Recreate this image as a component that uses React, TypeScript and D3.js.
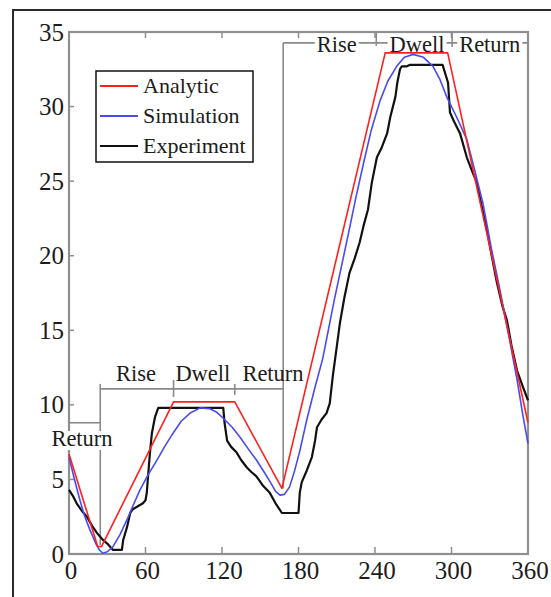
import React from 'react';
import * as d3 from 'd3';

// ---- data (angle in degrees, value) ----
const analyticPts: [number, number][] = [
  [0, 6.7], [22.5, 0.5], [25.5, 0.5], [82, 10.2], [130, 10.2], [167, 4.4],
  [248, 33.6], [297, 33.6], [360, 8.8],
];

const simulationPts: [number, number][] = [
  [0, 6.5], [4, 5.1], [8.6, 3.6], [12, 2.6], [16.5, 1.6], [21, 0.7], [24, 0.25],
  [26.5, 0.05], [30, 0.15], [34.5, 0.5], [40, 1.3], [45.5, 2.3], [50, 3.2],
  [55.7, 4.3], [62, 5.3], [69, 6.3], [75, 7.2], [81.6, 8.1], [88, 8.9],
  [95, 9.45], [103, 9.8], [110, 9.75], [116, 9.5], [121, 9.1], [128, 8.5],
  [134, 7.85], [141, 7.0], [147, 6.3], [153, 5.5], [158, 4.8], [162, 4.2],
  [165.5, 3.95], [169, 4.0], [173, 4.5], [177, 5.6], [181, 6.9], [186.5, 9.0],
  [193, 11.2], [199, 13.1], [208, 17.0], [218.7, 21.3], [225, 23.9], [231, 26.2],
  [237, 28.4], [244, 30.4], [250, 31.7], [257, 32.7], [263, 33.3], [270, 33.5],
  [278, 33.3], [285.5, 32.7], [291, 31.8], [296.5, 30.6], [304, 29.3],
  [312, 27.8], [318, 25.8], [324.7, 23.5], [331, 20.6], [338, 17.7],
  [345, 14.6], [351.4, 11.7], [356, 9.3], [360, 7.4],
];

const experimentPts: [number, number][] = [
  [0, 4.3], [3, 3.9], [6, 3.4], [10, 2.9], [14, 2.5], [18, 1.9], [22, 1.4],
  [26, 1.0], [30, 0.7], [34.5, 0.27], [41.5, 0.27], [42.5, 0.94], [45.5, 1.8],
  [48, 2.75], [50, 3.0], [53, 3.15], [58, 3.4], [60, 3.6], [61, 4.1], [62, 5.2],
  [63.5, 6.8], [65, 8.1], [67.5, 9.2], [70, 9.8], [121, 9.8], [122, 8.8],
  [124, 7.6], [127, 7.2], [131.5, 6.8], [135, 6.3], [139.5, 5.8], [143, 5.5],
  [147, 5.2], [152, 4.6], [157.5, 4.1], [162, 3.4], [167, 2.75], [180, 2.75],
  [181, 4.1], [182.5, 4.8], [186.5, 5.6], [190.5, 6.5], [193, 7.6], [194.5, 8.5],
  [198, 9.0], [202, 9.45], [204.5, 10.1], [207, 12], [208.6, 13.0], [212.5, 15.5],
  [216, 17.2], [220, 18.85], [224, 19.8], [228, 20.9], [231, 22], [234.5, 23.1],
  [237.5, 24.9], [241.5, 26.6], [245, 27.2], [249.5, 28.2], [252, 29.3],
  [256, 30.65], [257.5, 31.6], [259.6, 32.5], [261, 32.7], [265, 32.7],
  [267.5, 32.8], [293, 32.8], [297.3, 31.6], [298.8, 29.6], [302, 29.0],
  [306.7, 28.2], [312, 26.6], [316, 25.7], [319.8, 24.9], [324, 23.2],
  [327.8, 21.7], [332, 19.8], [335.6, 18.2], [340, 16.6], [343.4, 15.7],
  [347, 14.0], [351.4, 12.3], [356, 11.2], [360, 10.3],
];

const xTicks = [0, 60, 120, 180, 240, 300, 360];
const yTicks = [0, 5, 10, 15, 20, 25, 30, 35];
const seriesNames = ['Analytic', 'Simulation', 'Experiment'];
const seriesColors = ['#ff1f1f', '#4a4af2', '#111111'];

// phase annotations (degrees / values)
const lowerPhaseLabels = ['Rise', 'Dwell', 'Return'];
const lowerPhaseCenters = [52.5, 105, 160];
const upperPhaseLabels = ['Rise', 'Dwell', 'Return'];
const upperPhaseCenters = [210, 273, 330];
const lowerBounds = [24.5, 82, 130, 168];
const upperBounds = [168, 241, 300.5, 360];

const FONT = 'Liberation Serif';

function textWidth(t: string, size: number): number {
  const c = document.createElement('canvas').getContext('2d');
  if (!c) return t.length * size * 0.45;
  c.font = `${size}px "Liberation Serif"`;
  return c.measureText(t).width;
}

export default function App() {
  const W = 551, H = 597;
  const x = d3.scaleLinear().domain([0, 360]).range([69, 528]);
  const y = d3.scaleLinear().domain([0, 35]).range([554, 32]);
  const line = d3.line<[number, number]>().x(d => x(d[0])).y(d => y(d[1]));

  const axisColor = '#8f8f8f';
  const bracketColor = '#8a8a8a';
  const annSize = 22.5;
  const txt = '#1c1c1c';

  const labelWithBg = (t: string, cx: number, base: number, key: string) => {
    const w = textWidth(t, annSize);
    return (
      <g key={key}>
        <rect x={cx - w / 2 - 2} y={base - 15} width={w + 4} height={19} fill="#fff" />
        <text x={cx} y={base} textAnchor="middle" fontSize={annSize} fontFamily={FONT} fill={txt}>{t}</text>
      </g>
    );
  };

  const yLow = y(11.07);
  const yLeft = y(8.8);
  const yTop = y(34.27);

  return (
    <svg width={W} height={H} style={{ position: 'absolute', left: 0, top: 0, background: '#fff' }}>
      {/* outer frame */}
      <path d={`M13,${H} V10 H${W}`} fill="none" stroke="#2a2a2a" strokeWidth={2} />

      {/* plot frame */}
      <rect x={x(0)} y={y(35)} width={x(360) - x(0)} height={y(0) - y(35)} fill="none" stroke={axisColor} strokeWidth={2.2} />
      {xTicks.slice(1, -1).map(t => (
        <g key={'xt' + t}>
          <line x1={x(t)} x2={x(t)} y1={y(0)} y2={y(0) - 7} stroke={axisColor} strokeWidth={1.5} />
          <line x1={x(t)} x2={x(t)} y1={y(35)} y2={y(35) + 6} stroke={axisColor} strokeWidth={1.5} />
        </g>
      ))}
      {yTicks.slice(1, -1).map(t => (
        <line key={'yt' + t} x1={x(0)} x2={x(0) + 5} y1={y(t)} y2={y(t)} stroke={axisColor} strokeWidth={1.5} />
      ))}
      {xTicks.map(t => (
        <text key={'xl' + t} x={x(t) + 2} y={579} textAnchor="middle" fontSize={25} fontFamily={FONT} fill={txt}>{t}</text>
      ))}
      {yTicks.map(t => (
        <text key={'yl' + t} x={64} y={y(t) + 8.5} textAnchor="end" fontSize={25} fontFamily={FONT} fill={txt}>{t}</text>
      ))}

      {/* phase brackets */}
      <g stroke={bracketColor} strokeWidth={1.6} fill="none">
        <line x1={x(0)} x2={x(lowerBounds[0])} y1={yLeft} y2={yLeft} />
        <line x1={x(lowerBounds[0])} x2={x(lowerBounds[0])} y1={yLow - 5} y2={y(0.6)} />
        <line x1={x(lowerBounds[0])} x2={x(lowerBounds[3])} y1={yLow} y2={yLow} />
        <line x1={x(lowerBounds[1])} x2={x(lowerBounds[1])} y1={yLow - 9} y2={yLow + 8} />
        <line x1={x(lowerBounds[2])} x2={x(lowerBounds[2])} y1={yLow - 5} y2={yLow + 6} />
        <line x1={x(upperBounds[0])} x2={x(upperBounds[0])} y1={yTop} y2={y(4.4)} />
        <line x1={x(upperBounds[0])} x2={x(upperBounds[3])} y1={yTop} y2={yTop} />
        <line x1={x(upperBounds[1])} x2={x(upperBounds[1])} y1={yTop - 10} y2={yTop + 3} />
        <line x1={x(upperBounds[2])} x2={x(upperBounds[2])} y1={yTop - 11} y2={yTop + 4} />
      </g>
      {labelWithBg('Return', 82, 446, 'retL')}
      {lowerPhaseLabels.map((t, i) => (
        <text key={'lp' + i} x={x(lowerPhaseCenters[i])} y={381} textAnchor="middle" fontSize={annSize} fontFamily={FONT} fill={txt}>{t}</text>
      ))}
      {upperPhaseLabels.map((t, i) => labelWithBg(t, x(upperPhaseCenters[i]), 52, 'up' + i))}

      {/* curves */}
      <path d={line(experimentPts) || ''} fill="none" stroke={seriesColors[2]} strokeWidth={2.2} strokeLinejoin="round" />
      <path d={line(simulationPts) || ''} fill="none" stroke={seriesColors[1]} strokeWidth={1.6} strokeLinejoin="round" />
      <path d={line(analyticPts) || ''} fill="none" stroke={seriesColors[0]} strokeWidth={1.6} strokeLinejoin="round" />

      {/* legend */}
      <rect x={96} y={71} width={157} height={91} fill="#fff" stroke="#111" strokeWidth={1.5} />
      {seriesNames.map((n, i) => {
        const ly = 86 + i * 30;
        return (
          <g key={'lg' + n}>
            <line x1={100} x2={138} y1={ly} y2={ly} stroke={seriesColors[i]} strokeWidth={1.8} />
            <text x={143} y={ly + 6.5} fontSize={22} fontFamily={FONT} fill={txt}>{n}</text>
          </g>
        );
      })}
    </svg>
  );
}
